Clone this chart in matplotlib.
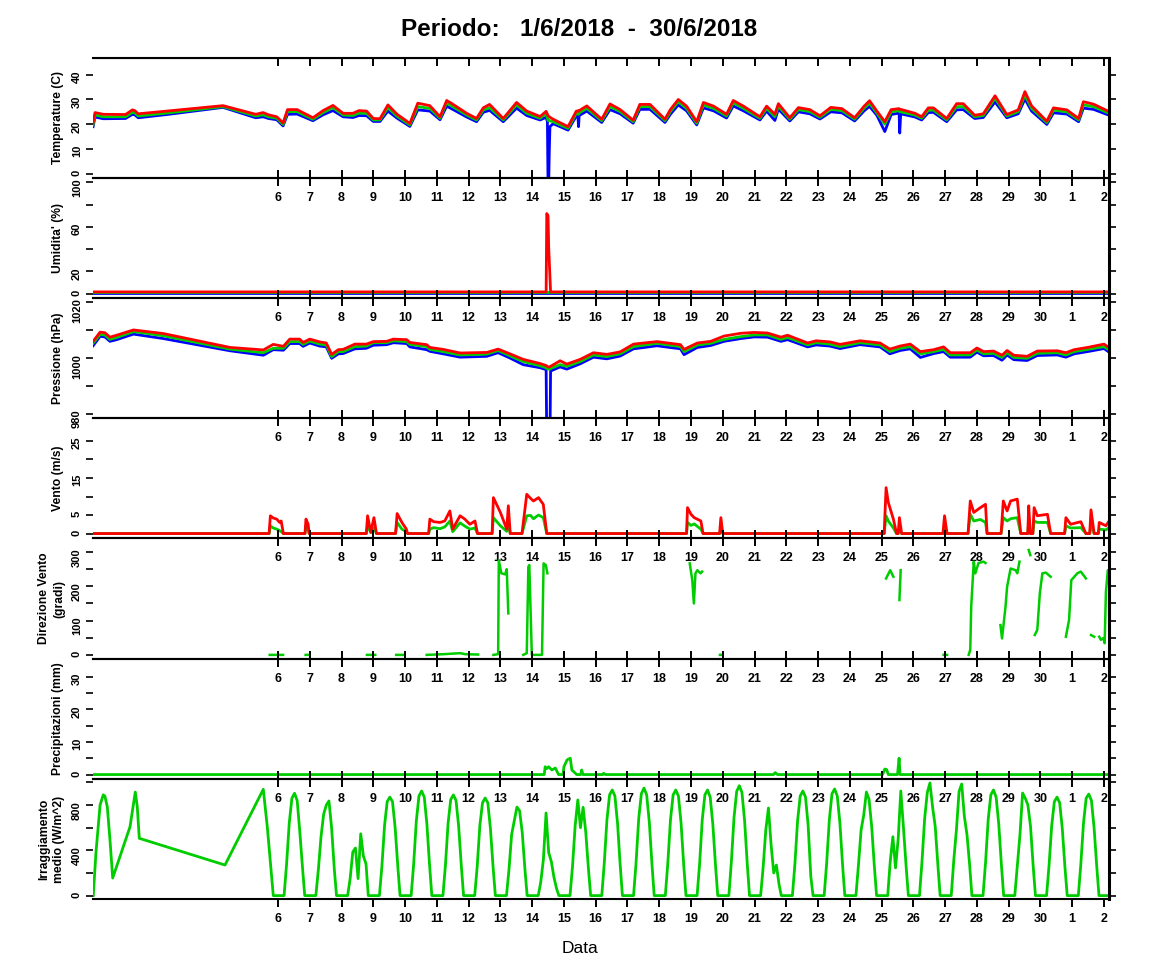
import numpy as np
import matplotlib
matplotlib.use("Agg")
import matplotlib.pyplot as plt

plt.rcParams["font.family"] = ["Liberation Sans", "DejaVu Sans"]

# x = day of June (July 1 -> 31, July 2 -> 32)
day_ticks = list(range(6, 33))
day_labels = [str(d) if d <= 30 else str(d - 30) for d in day_ticks]

# ---- temperature (C): green = media, red = max, blue = min
t_temp = [0.18, 0.24, 0.5, 1.2, 1.42, 1.5, 1.6, 2.5, 4.27, 5.3, 5.53, 5.7, 5.96, 6.16, 6.3, 6.6,
          7.1, 7.42, 7.73, 8.05, 8.36, 8.55, 8.79, 9.0, 9.21, 9.46, 9.74, 10.15, 10.4, 10.78,
          11.1, 11.31, 11.5, 11.94, 12.25, 12.46, 12.66, 13.09, 13.51, 13.83, 14.25, 14.44,
          14.48, 14.5, 14.52, 14.54, 14.56, 14.66, 15.13, 15.39, 15.44, 15.46, 15.48, 15.72,
          16.19, 16.45, 16.77, 17.18, 17.39, 17.71, 18.18, 18.35, 18.6, 18.86, 19.18, 19.39,
          19.71, 20.12, 20.33, 20.65, 21.17, 21.38, 21.64, 21.75, 22.11, 22.38, 22.74, 23.06,
          23.4, 23.75, 24.15, 24.45, 24.62, 24.85, 25.1, 25.3, 25.55, 25.57, 25.6, 26.05,
          26.26, 26.47, 26.63, 27.05, 27.36, 27.57, 27.93, 28.2, 28.57, 28.94, 29.3, 29.51,
          29.72, 30.2, 30.41, 30.83, 31.2, 31.35, 31.67, 32.16]
temp_med = [19.7, 23.7, 23.0, 23.0, 24.8, 24.5, 23.3, 24.5, 27.1, 23.3, 23.8, 23.0, 22.4, 19.9, 25.1, 25.1,
            22.0, 24.7, 26.7, 23.7, 23.5, 24.5, 24.4, 21.7, 21.7, 26.7, 23.3, 19.7, 27.1, 26.4,
            22.4, 28.7, 27.1, 23.7, 21.7, 25.75, 26.7, 21.7, 27.8, 24.4, 22.4, 24.4,
            22.5, 21.5, 21.5, 21.5, 21.3, 21.0, 18.3, 24.4, 24.4, 24.0, 24.6, 26.4,
            21.4, 27.1, 25.1, 21.0, 27.1, 27.1, 21.4, 25.1, 29.1, 26.4, 20.35, 27.8,
            26.4, 23.3, 28.7, 26.4, 22.4, 26.4, 23.05, 27.3, 22.0, 25.9, 25.1, 22.8,
            26.0, 25.5, 22.0, 26.5, 28.5, 24.5, 20.0, 25.0, 25.5, 25.0, 25.0, 23.7,
            22.4, 25.7, 25.7, 21.7, 27.1, 27.1, 23.0, 23.5, 30.5, 23.3, 25.05, 31.8,
            26.4, 20.6, 25.7, 25.0, 21.7, 27.8, 27.1, 24.4]
temp_max = [20.5, 24.7, 24.0, 23.9, 25.8, 25.4, 24.2, 25.3, 27.5, 24.0, 24.7, 23.8, 23.0, 20.5, 25.9, 25.9,
            22.6, 25.5, 27.6, 24.4, 24.4, 25.5, 25.3, 22.3, 22.2, 27.8, 24.1, 20.3, 28.5, 27.5,
            23.0, 29.6, 28.1, 24.4, 22.3, 26.6, 28.0, 22.3, 28.8, 25.3, 23.1, 25.2,
            24.0, 23.5, 23.2, 23.0, 22.8, 22.0, 19.0, 25.3, 25.4, 25.2, 25.5, 27.4,
            22.0, 28.2, 25.9, 21.6, 28.0, 28.0, 22.0, 25.9, 30.0, 27.3, 21.0, 28.8,
            27.3, 24.0, 29.6, 27.3, 23.0, 27.3, 24.0, 28.3, 22.6, 26.7, 25.9, 23.4,
            26.8, 26.3, 22.6, 27.3, 29.5, 25.3, 21.0, 25.9, 26.3, 26.0, 26.0, 24.4,
            23.0, 26.6, 26.6, 22.3, 28.3, 28.3, 23.6, 24.2, 31.5, 23.9, 25.8, 33.2,
            27.4, 21.2, 26.6, 25.8, 22.3, 29.1, 28.1, 25.1]
temp_min = [19.0, 22.9, 22.2, 22.3, 24.0, 23.7, 22.6, 23.9, 26.8, 22.6, 23.0, 22.3, 21.8, 19.3, 24.0, 24.1,
            21.4, 23.8, 25.5, 23.0, 22.7, 23.5, 23.4, 21.1, 21.1, 25.3, 22.5, 19.1, 25.8, 25.3,
            21.8, 27.3, 26.0, 22.9, 21.0, 24.8, 25.6, 21.0, 26.5, 23.5, 21.7, 22.8,
            21.0, -5.0, -5.0, 9.5, 19.0, 20.2, 17.6, 23.3, 23.3, 19.0, 23.5, 25.3,
            20.7, 25.9, 24.2, 20.4, 26.0, 26.0, 20.7, 24.0, 27.8, 25.4, 19.7, 26.6,
            25.4, 22.5, 27.4, 25.4, 21.7, 25.3, 21.5, 26.1, 21.3, 25.0, 24.2, 22.1,
            25.0, 24.6, 21.3, 25.4, 27.2, 23.6, 17.0, 23.9, 24.5, 16.4, 24.2, 22.9,
            21.7, 24.7, 24.8, 21.0, 25.8, 25.9, 22.3, 22.7, 29.0, 22.6, 24.2, 30.2,
            25.3, 19.9, 24.6, 24.1, 21.0, 26.5, 26.0, 23.6]

# ---- humidity (%)
t_hum = [0.18, 14.44, 14.46, 14.5, 14.52, 14.56, 14.58, 32.16]
hum_max = [1.5, 1.5, 72.0, 70.0, 42.0, 15.0, 1.5, 1.5]
hum_med = [1.0, 1.0, 1.0, 1.0, 1.0, 1.0, 1.0, 1.0]
hum_min = [0.5, 0.5, 0.5, 0.5, 0.5, 0.5, 0.5, 0.5]

# ---- pressure (hPa)
t_pres = [0.18, 0.4, 0.55, 0.71, 0.92, 1.45, 2.39, 4.49, 5.54, 5.85, 6.17, 6.37, 6.68, 6.79, 7.0,
          7.31, 7.52, 7.69, 7.9, 8.05, 8.42, 8.78, 9.0, 9.42, 9.63, 10.05, 10.15, 10.68, 10.78,
          11.2, 11.73, 12.57, 12.93, 13.3, 13.72, 14.25, 14.44, 14.46, 14.5, 14.56, 14.58,
          14.88, 15.09, 15.51, 15.93, 16.35, 16.77, 17.19, 17.93, 18.67, 18.78, 19.2, 19.62,
          20.04, 20.57, 20.99, 21.41, 21.83, 22.04, 22.67, 22.94, 23.37, 23.69, 24.32, 24.95,
          25.26, 25.58, 25.9, 26.22, 26.64, 26.95, 27.16, 27.79, 28.0, 28.21, 28.52, 28.79,
          28.95, 29.16, 29.58, 29.9, 30.53, 30.8, 31.06, 31.48, 32.0, 32.16]
pres_med = [1005.3, 1008.5, 1008.3, 1006.7, 1007.4, 1009.5, 1008.0, 1003.2, 1001.9, 1003.5, 1003.5,
            1005.9, 1005.9, 1004.9, 1006.1, 1005.0, 1004.7, 1000.5, 1002.3, 1002.3, 1004.1, 1004.3,
            1005.5, 1005.5, 1006.2, 1005.9, 1004.9, 1004.1, 1003.1, 1002.3, 1001.1, 1001.4, 1002.7,
            1000.8, 998.7, 997.2, 996.5, 996.2, 996.0, 996.0, 996.3, 997.6, 997.0, 998.7, 1001.1,
            1000.5, 1001.5, 1004.1, 1005.3, 1004.1, 1002.3, 1004.7, 1005.3, 1006.7, 1007.7, 1008.3,
            1008.3, 1006.7, 1007.4, 1004.7, 1005.5, 1005.0, 1004.1, 1005.5, 1004.7, 1002.3, 1003.5,
            1004.1, 1001.5, 1002.3, 1003.1, 1001.1, 1001.1, 1002.9, 1001.5, 1001.7, 1000.2, 1001.9,
            1000.2, 999.9, 1001.7, 1001.9, 1001.1, 1002.3, 1003.1, 1004.1, 1002.9]
pres_max = [1006.0, 1009.3, 1009.1, 1007.5, 1008.2, 1010.1, 1008.8, 1003.8, 1002.9, 1004.9, 1004.2,
            1006.8, 1006.8, 1005.6, 1006.8, 1005.8, 1005.4, 1001.3, 1003.0, 1003.1, 1005.0, 1005.0,
            1005.9, 1006.0, 1006.8, 1006.6, 1005.6, 1004.8, 1003.8, 1003.1, 1001.8, 1002.0, 1003.2,
            1001.5, 999.5, 998.0, 997.3, 997.1, 996.8, 996.8, 997.0, 999.0, 997.8, 999.5, 1001.9,
            1001.3, 1002.2, 1005.0, 1005.9, 1004.8, 1003.1, 1005.4, 1006.0, 1007.9, 1008.9, 1009.2,
            1009.0, 1007.5, 1008.2, 1005.4, 1006.2, 1005.8, 1004.9, 1006.2, 1005.4, 1003.2, 1004.3,
            1005.0, 1002.3, 1003.0, 1004.0, 1001.9, 1001.9, 1003.6, 1002.3, 1002.5, 1001.0, 1002.7,
            1001.0, 1000.6, 1002.5, 1002.6, 1001.9, 1003.0, 1003.8, 1005.0, 1003.7]
pres_min = [1004.4, 1007.8, 1007.6, 1006.0, 1006.6, 1008.6, 1007.0, 1002.6, 1001.0, 1003.0, 1002.8,
            1005.2, 1005.2, 1004.2, 1005.4, 1004.3, 1004.0, 999.9, 1001.5, 1001.6, 1003.3, 1003.5,
            1004.6, 1004.8, 1005.5, 1005.2, 1004.0, 1003.0, 1002.4, 1001.5, 1000.3, 1000.6, 1001.9,
            1000.0, 997.6, 996.5, 995.8, 970.0, 970.0, 970.0, 995.3, 996.8, 996.0, 997.9, 1000.3,
            999.7, 1000.7, 1003.3, 1004.4, 1003.3, 1001.2, 1003.8, 1004.5, 1006.0, 1007.0, 1007.6,
            1007.5, 1006.0, 1006.6, 1004.0, 1004.7, 1004.3, 1003.4, 1004.8, 1004.0, 1001.5, 1002.7,
            1003.3, 1000.2, 1001.6, 1002.3, 1000.3, 1000.3, 1002.1, 1000.8, 1000.9, 999.2, 1001.1,
            999.4, 999.1, 1000.9, 1001.1, 1000.3, 1001.5, 1002.3, 1003.4, 1002.1]

# ---- wind (m/s): red = raffica, green = media
t_wind = [0.18, 5.72, 5.76, 5.85, 5.96, 6.05, 6.1, 6.17, 6.85, 6.88, 6.95, 6.98, 8.78, 8.82, 8.92,
          9.02, 9.1, 9.7, 9.75, 9.9, 10.04, 10.08, 10.74, 10.78, 10.9, 11.1, 11.25, 11.41, 11.5,
          11.73, 11.88, 12.04, 12.2, 12.28, 12.74, 12.78, 13.0, 13.2, 13.25, 13.31, 13.68, 13.83,
          13.95, 14.04, 14.2, 14.35, 14.46, 18.86, 18.89, 19.0, 19.1, 19.31, 19.38, 19.9, 19.94,
          20.0, 25.08, 25.14, 25.21, 25.37, 25.47, 25.52, 25.56, 25.63, 26.93, 26.98, 27.06,
          27.72, 27.79, 27.9, 28.11, 28.27, 28.32, 28.76, 28.83, 28.95, 29.06, 29.27, 29.38,
          29.6, 29.63, 29.68, 29.76, 29.8, 29.9, 30.22, 30.32, 30.76, 30.8, 30.95, 31.27, 31.43,
          31.55, 31.59, 31.69, 31.82, 31.85, 32.06, 32.16]
wind_gust = [0, 0, 4.8, 4.2, 3.9, 3.0, 3.4, 0, 0, 3.9, 2.5, 0, 0, 4.8, 0.3,
             4.3, 0, 0, 5.4, 3.0, 1.2, 0, 0, 3.9, 3.2, 3.0, 3.4, 6.1, 1.2,
             4.8, 3.9, 2.5, 3.4, 0, 0, 9.7, 5.7, 1.2, 7.5, 0, 0, 10.6,
             9.5, 8.8, 9.7, 7.9, 0, 0, 7.0, 5.2, 4.3, 3.4, 0, 0, 4.3,
             0, 0, 12.4, 8.4, 3.9, 0, 0, 4.3, 0, 0, 4.8, 0,
             0, 8.8, 5.7, 7.0, 7.9, 0, 0, 8.8, 6.1, 8.8, 9.3, 0,
             0, 7.5, 0, 0, 7.0, 4.8, 5.2, 0, 0, 4.3, 2.5, 3.2, 0,
             0, 6.4, 0, 0, 3.0, 2.1, 3.4]
wind_mean = [0, 0, 2.1, 1.5, 1.2, 0.8, 0.5, 0, 0, 2.1, 1.0, 0, 0, 2.1, 0.3,
             1.5, 0, 0, 3.0, 1.2, 0.5, 0, 0, 1.2, 1.6, 1.3, 1.8, 3.4, 0.5,
             2.9, 2.0, 1.2, 1.5, 0, 0, 4.3, 2.1, 0.6, 3.2, 0, 0, 4.8,
             4.9, 4.0, 5.0, 4.3, 0, 0, 3.0, 2.2, 2.6, 1.2, 0, 0, 1.5,
             0, 0, 4.8, 3.4, 1.5, 0, 0, 1.6, 0, 0, 1.2, 0,
             0, 5.2, 3.4, 3.8, 3.0, 0, 0, 4.3, 3.4, 4.0, 4.3, 0,
             0, 3.5, 0, 0, 3.4, 3.0, 3.0, 0, 0, 2.1, 1.5, 1.6, 0,
             0, 2.5, 0, 0, 1.2, 1.0, 1.6]

# ---- wind direction (gradi), nan = missing
nan = np.nan
t_dir = [5.74, 6.16, nan, 6.87, 6.94, nan, 8.8, 9.06, nan, 9.72, 9.97, nan,
         10.68, 11.2, 11.73, 11.9, 12.3, nan,
         12.78, 12.93, 12.95, 13.03, 13.15, 13.2, 13.25, nan,
         13.72, 13.83, 13.88, 13.91, 13.99, 14.31, 14.36, 14.43, 14.48, nan,
         18.96, 19.04, 19.09, 19.14, 19.2, 19.3, 19.35, nan, 19.91, 19.95, nan,
         25.14, 25.27, 25.37, nan, 25.56, 25.6, nan, 26.95, 27.06, nan,
         27.74, 27.79, 27.82, 27.9, 27.95, 28.05, 28.21, 28.27, nan,
         28.74, 28.79, 28.9, 28.95, 29.06, 29.22, 29.27, 29.34, nan, 29.63, 29.68, nan,
         29.82, 29.9, 29.98, 30.06, 30.17, 30.32, nan,
         30.8, 30.9, 30.97, 31.16, 31.27, 31.43, nan, 31.59, 31.69, nan,
         31.85, 31.9, 31.98, 32.02, 32.06, 32.12, 32.16]
dir_val = [0, 0, nan, 0, 0, nan, 0, 0, nan, 0, 0, nan,
           0, 2, 5, 2, 1, nan,
           0, 2, 276, 238, 235, 250, 121, nan,
           0, 5, 257, 262, 0, 0, 267, 262, 238, nan,
           267, 218, 150, 238, 247, 238, 243, nan, 0, 0, nan,
           223, 247, 228, nan, 160, 247, nan, 0, 0, nan,
           0, 15, 141, 272, 238, 268, 272, 268, nan,
           87, 48, 141, 199, 252, 247, 238, 272, nan, 306, 291, nan,
           58, 73, 180, 238, 240, 228, nan,
           53, 102, 218, 238, 243, 223, nan, 58, 53, nan,
           53, 44, 49, 34, 184, 247, 243]

# ---- precipitation (mm)
t_rain = [0.18, 14.38, 14.41, 14.46, 14.52, 14.62, 14.73, 14.83, 14.97, 15.0, 15.1, 15.2, 15.25,
          15.35, 15.4, 15.53, 15.56, 15.6, 16.22, 16.25, 16.3, 21.6, 21.65, 21.72, 25.03, 25.1,
          25.16, 25.21, 25.5, 25.55, 25.58, 32.16]
rain = [0, 0, 2.4, 1.8, 2.4, 1.4, 2.0, 0, 0, 2.4, 4.5, 5.0, 1.4,
        0.5, 0, 0, 1.4, 0, 0, 0.4, 0, 0, 0.6, 0, 0, 1.7,
        1.5, 0, 0, 5.0, 0, 0]

# ---- solar radiation (W/m^2): first days, then one row per day at fixed hours
t_sun_early = [0.186, 0.27, 0.4, 0.5, 0.55, 0.627, 0.712, 0.797, 1.342, 1.508, 1.571, 1.634,
               4.332, 5.537, 5.663, 5.852]
sun_early = [0, 380, 800, 890, 880, 785, 490, 155, 608, 915, 785, 506, 270, 939, 608, 0]
sun_hours = [4.6, 6.5, 8.5, 10.5, 12.5, 14.5, 16.5, 18.5, 20.2]
sun_days = list(range(6, 32))
sun_rows = [
    [0, 280, 640, 860, 904, 840, 560, 250, 0],   # 6
    [0, 230, 520, 720, 800, 836, 600, 240, 0],   # 7
    [0, 150, 385, 420, 150, 546, 350, 280, 0],   # 8
    [0, 260, 620, 830, 870, 830, 600, 260, 0],   # 9
    [0, 280, 660, 880, 924, 870, 630, 270, 0],   # 10
    [0, 270, 640, 850, 889, 840, 610, 260, 0],   # 11
    [0, 260, 620, 820, 862, 820, 590, 250, 0],   # 12
    [0, 230, 540, 660, 782, 750, 560, 240, 0],   # 13
    [0, 120, 320, 730, 380, 300, 160, 60, 0],    # 14
    [0, 260, 620, 845, 600, 780, 560, 240, 0],   # 15
    [0, 290, 670, 890, 933, 880, 640, 270, 0],   # 16
    [0, 290, 680, 900, 950, 890, 650, 280, 0],   # 17
    [0, 290, 670, 890, 933, 880, 640, 270, 0],   # 18
    [0, 280, 670, 890, 933, 870, 630, 270, 0],   # 19
    [0, 300, 690, 920, 971, 910, 660, 280, 0],   # 20
    [0, 250, 580, 774, 450, 200, 270, 100, 0],   # 21
    [0, 280, 660, 880, 924, 870, 620, 170, 0],   # 22
    [0, 290, 670, 900, 942, 880, 640, 270, 0],   # 23
    [0, 270, 580, 712, 915, 850, 610, 260, 0],   # 24
    [0, 300, 520, 245, 500, 924, 600, 260, 0],   # 25
    [0, 300, 680, 910, 995, 782, 610, 270, 0],   # 26
    [0, 310, 580, 920, 986, 700, 537, 270, 0],   # 27
    [0, 290, 670, 890, 933, 870, 630, 270, 0],   # 28
    [0, 260, 537, 906, 860, 800, 610, 260, 0],   # 29
    [0, 270, 620, 830, 870, 820, 590, 250, 0],   # 30
    [0, 280, 640, 860, 897, 840, 600, 260, 0],   # 1 luglio
]
t_sun_end = [32.16]
sun_end = [0]

RED = "#FF0000"
GREEN = "#00CD00"
BLUE = "#0000FF"

t_sun = list(t_sun_early)
sun = list(sun_early)
for d, row in zip(sun_days, sun_rows):
    for h, v in zip(sun_hours, row):
        t_sun.append(d + h / 24.0)
        sun.append(v)
t_sun += t_sun_end
sun += sun_end

panels = [
    ("Temperature (C)", (-1.8, 46.8), list(range(0, 41, 10)), [0, 10, 20, 30, 40]),
    ("Umidita' (%)", (-4, 104), list(range(0, 101, 20)), [0, 20, 60, 100]),
    ("Pressione (hPa)", (978.4, 1021.6), list(range(980, 1021, 10)), [980, 1000, 1020]),
    ("Vento (m/s)", (-1.2, 31.2), list(range(0, 26, 5)), [0, 5, 15, 25]),
    ("Direzione Vento\n(gradi)", (-12, 341), list(range(0, 301, 50)), [0, 100, 200, 300]),
    ("Precipitazioni (mm)", (-1.36, 35.36), list(range(0, 31, 5)), [0, 10, 20, 30]),
    ("Irraggiamento\nmedio (W/m^2)", (-30, 1030), list(range(0, 1001, 200)), [0, 400, 800]),
]

W, H = 1152, 972
fig = plt.figure(figsize=(W / 100, H / 100), dpi=100, facecolor="white")
bounds = [58, 178, 298, 418, 538, 659, 779, 899]
x_left, x_right = 93, 1109
xlim = (0.177, 32.157)
axes = []
for i, (lab, ylim, yt, shown) in enumerate(panels):
    top, bot = bounds[i], bounds[i + 1]
    ax = fig.add_axes([x_left / W, 1 - bot / H, (x_right - x_left) / W, (bot - top) / H])
    ax.set_facecolor("none")
    ax.set_xlim(xlim)
    ax.set_ylim(ylim)
    ax.set_xticks(day_ticks)
    ax.set_xticklabels(day_labels)
    ax.set_yticks(yt)
    ax.set_yticklabels([str(v) if v in shown else "" for v in yt])
    ax.tick_params(axis="x", direction="out", length=5.8, width=1.4, labelsize=9, pad=4,
                   top=(i > 0), bottom=True)
    ax.tick_params(axis="y", direction="out", length=5.0, width=1.2, labelsize=8, pad=3,
                   left=True, right=True, labelrotation=90)
    for lbl in ax.get_xticklabels() + ax.get_yticklabels():
        lbl.set_fontweight("bold")
    ax.spines["left"].set_visible(False)
    ax.spines["right"].set_linewidth(2.2)
    ax.spines["top"].set_linewidth(1.5)
    ax.spines["bottom"].set_linewidth(1.5)
    ylx = -0.0345 if "\n" not in lab else -0.041
    ax.text(ylx, 0.5, lab, transform=ax.transAxes, rotation=90, ha="center", va="center",
            fontsize=8.7, fontweight="bold", linespacing=1.35)
    axes.append(ax)

# top ticks of the first panel point inward
axt = axes[0].twiny()
axt.set_xlim(xlim)
axt.set_xticks(day_ticks)
axt.tick_params(axis="x", direction="in", length=5.8, width=1.4, labeltop=False, top=True)
for s in ("left", "bottom"):
    axt.spines[s].set_visible(False)
axes[0].tick_params(axis="x", top=False)

lw = 2.0
ax = axes[0]
ax.plot(t_temp, temp_min, color=BLUE, lw=lw)
ax.plot(t_temp, temp_med, color=GREEN, lw=lw)
ax.plot(t_temp, temp_max, color=RED, lw=lw)

ax = axes[1]
ax.plot(t_hum, hum_min, color=BLUE, lw=lw)
ax.plot(t_hum, hum_med, color=GREEN, lw=lw)
ax.plot(t_hum, hum_max, color=RED, lw=lw)

ax = axes[2]
ax.plot(t_pres, pres_min, color=BLUE, lw=lw)
ax.plot(t_pres, pres_med, color=GREEN, lw=lw)
ax.plot(t_pres, pres_max, color=RED, lw=lw)

ax = axes[3]
ax.plot(t_wind, wind_mean, color=GREEN, lw=lw)
ax.plot(t_wind, wind_gust, color=RED, lw=lw)

axes[4].plot(t_dir, dir_val, color=GREEN, lw=1.8)
axes[5].plot(t_rain, rain, color=GREEN, lw=lw)
axes[6].plot(t_sun, sun, color=GREEN, lw=lw)

fig.text(579 / W, 1 - 30 / H, "Periodo:   1/6/2018  -  30/6/2018", ha="center", va="center",
         fontsize=17.5, fontweight="bold")
fig.text(580 / W, 1 - 948 / H, "Data", ha="center", va="center", fontsize=12.5)

fig.savefig("out.png", dpi=100, facecolor="white")
